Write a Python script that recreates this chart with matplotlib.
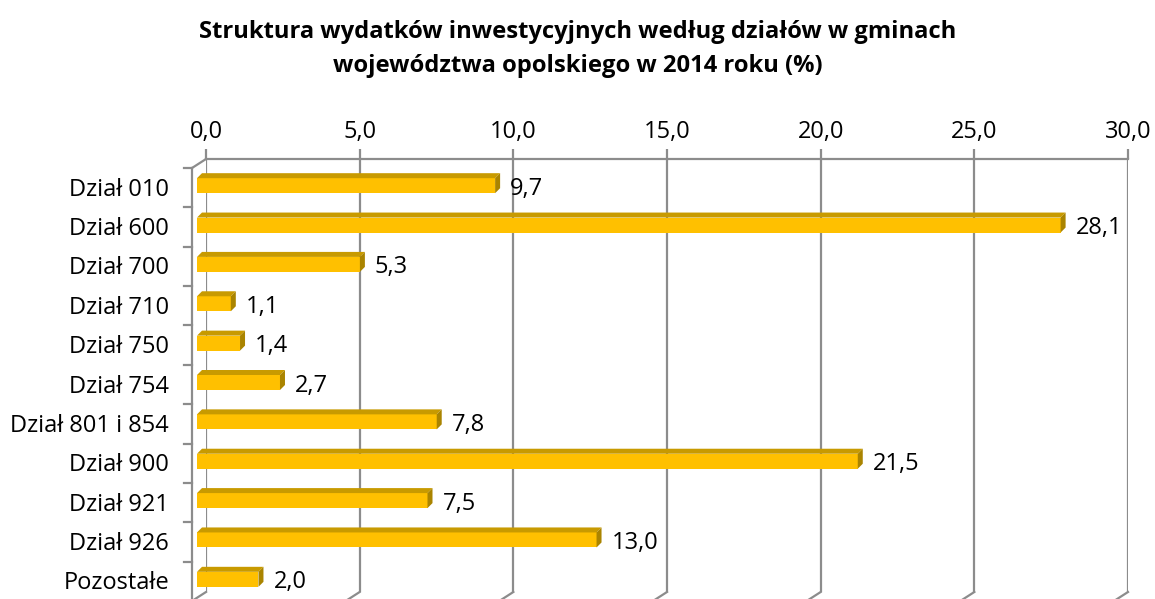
import numpy as np
import matplotlib
matplotlib.use("Agg")
import matplotlib.pyplot as plt
import matplotlib.transforms as mtransforms
from matplotlib.patches import Polygon

categories = ["Dział 010", "Dział 600", "Dział 700", "Dział 710", "Dział 750", "Dział 754",
              "Dział 801 i 854", "Dział 900", "Dział 921", "Dział 926", "Pozostałe"]
values = [9.7, 28.1, 5.3, 1.1, 1.4, 2.7, 7.8, 21.5, 7.5, 13.0, 2.0]
xticks = [0, 5, 10, 15, 20, 25, 30]
title = "Struktura wydatków inwestycyjnych według działów w gminach\nwojewództwa opolskiego w 2014 roku (%)"

plt.rcParams['font.family'] = ['Open Sans', 'DejaVu Sans']

W, H = 1155, 599
fig = plt.figure(figsize=(W / 100, H / 100), dpi=100)
# axes = back wall of the 3d plot
ax = fig.add_axes([206 / W, (H - 592) / H, 922 / W, 433 / H])
n = len(categories)
ax.set_xlim(0, 30)
ax.set_ylim(n - 0.5, -0.5)

grid_c = '#8c8c8c'
front_c = '#ffc000'
top_c = '#c89a00'
side_c = '#aa8400'
fs = 17

def px(dx, dy):
    # offset in pixels (dy positive = up)
    return mtransforms.ScaledTranslation(dx / 100, dy / 100, fig.dpi_scale_trans)

# back wall gridlines and top axis
for s in ['left', 'right', 'bottom']:
    ax.spines[s].set_visible(False)
ax.spines['top'].set_color(grid_c)
ax.spines['top'].set_linewidth(1.6)
ax.xaxis.tick_top()
ax.set_xticks(xticks)
ax.set_xticklabels([f"{t:.1f}".replace('.', ',') for t in xticks], fontsize=fs)
ax.tick_params(axis='x', direction='out', length=7, width=1.6, color=grid_c, pad=4)
ax.grid(axis='x', color=grid_c, linewidth=1.6)
ax.set_yticks([])
ax.set_axisbelow(True)

# depth edges: front plane is 14 px left and 9 px down from back wall
dep = (-14, -9)
xt = ax.get_xaxis_transform()
front = xt + px(*dep)
for t in xticks:
    # floor diagonals
    p0 = xt.transform((t, 0))
    p1 = front.transform((t, 0))
    fig.add_artist(plt.Line2D([p0[0] / W, p1[0] / W], [p0[1] / H, p1[1] / H],
                              color=grid_c, lw=1.6, transform=fig.transFigure))
# top-left diagonal
p0 = xt.transform((0, 1))
p1 = front.transform((0, 1))
fig.add_artist(plt.Line2D([p0[0] / W, p1[0] / W], [p0[1] / H, p1[1] / H],
                          color=grid_c, lw=1.6, transform=fig.transFigure))
# front left axis line with ticks at category boundaries
ax.plot([0, 0], [0, 1], color=grid_c, lw=1.6, clip_on=False, transform=front)
tk = mtransforms.blended_transform_factory(ax.transAxes, ax.transData) + px(dep[0] - 8, dep[1])
for b in np.arange(-0.5, n, 1.0):
    ax.plot([0, 8 / 922], [b, b], color=grid_c, lw=1.6, clip_on=False, transform=tk)

# category labels on the front plane
lab_t = mtransforms.blended_transform_factory(ax.transAxes, ax.transData) + px(dep[0] - 23, dep[1] - 2)
for i, c in enumerate(categories):
    ax.text(0, i, c, transform=lab_t, ha='right', va='center', fontsize=fs, clip_on=False)

# 3d bars
ux = 922 / 30.0
uy = 433 / n
bh = 15 / uy
bar_off = px(-9, -7)
dx, dy = 5 / ux, 5 / uy
for i, v in enumerate(values):
    y0 = i - bh / 2
    ax.barh(i, v, height=bh, left=0, color=front_c, edgecolor='none',
            transform=ax.transData + bar_off, zorder=3, clip_on=False)
    top = Polygon([(0, y0), (v, y0), (v + dx, y0 - dy), (dx, y0 - dy)], closed=True,
                  facecolor=top_c, edgecolor='none', transform=ax.transData + bar_off,
                  zorder=3, clip_on=False)
    side = Polygon([(v, y0), (v + dx, y0 - dy), (v + dx, y0 + bh - dy), (v, y0 + bh)], closed=True,
                   facecolor=side_c, edgecolor='none', transform=ax.transData + bar_off,
                   zorder=3, clip_on=False)
    ax.add_patch(top)
    ax.add_patch(side)
    ax.text(v, i, f"{v:.1f}".replace('.', ','), transform=ax.transData + px(6, -10),
            ha='left', va='center', fontsize=fs, zorder=4)

fig.text(0.5, 1 - 49 / H, title, ha='center', va='center', fontsize=17.1,
         fontweight='bold', linespacing=1.55)

fig.savefig("out.png", dpi=100)
